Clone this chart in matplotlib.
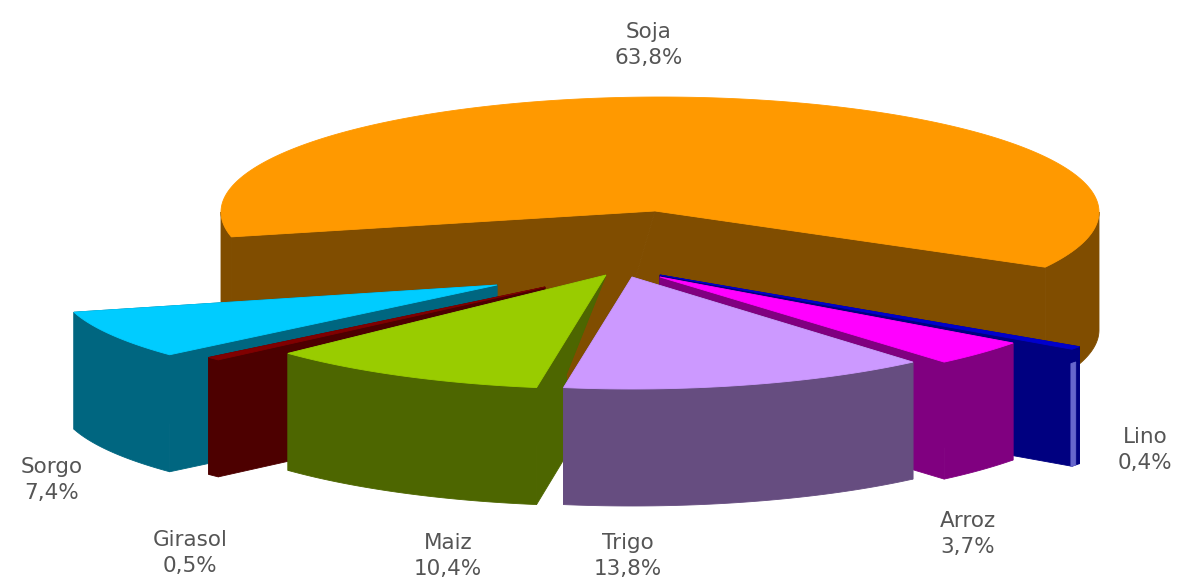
import numpy as np
import matplotlib
matplotlib.use("Agg")
import matplotlib.pyplot as plt
from matplotlib.patches import Polygon

# --- data
categories = ["Soja", "Lino", "Arroz", "Trigo", "Maiz", "Girasol", "Sorgo"]
values = [63.8, 0.4, 3.7, 13.8, 10.4, 0.5, 7.4]
value_labels = ["63,8%", "0,4%", "3,7%", "13,8%", "10,4%", "0,5%", "7,4%"]

# --- styles
top_colors = ["#FF9900", "#0000CC", "#FF00FF", "#CC99FF", "#99CC00", "#800000", "#00CCFF"]
side_colors = ["#804D00", "#000080", "#800080", "#664D80", "#4D6600", "#4D0000", "#006680"]
text_color = "#555555"

# --- layout (pixels in a 1182x587 canvas)
tips = [(655, 211), (660, 275), (660, 277), (632, 277), (606, 275), (545, 287), (497, 285)]
centers = [(660, 212), None, None, None, None, None, None]
radii = [(439, 115), (510, 126), (437, 112), (432, 112), (438, 114), (450, 106), (438, 105)]
heights = [118, 117, 117, 117, 117, 117, 117]
feet = {0: [(600, 400)], 4: [(575, 441), (566, 375)]}
angle_trim = {0: (2.5, -6.0)}
draw_order = [0, 1, 2, 6, 5, 4, 3]
label_xy = [(649, 45), (1145, 450), (968, 534), (628, 556), (448, 556), (190, 553), (52, 480)]
start_angle = 165.0

fig = plt.figure(figsize=(11.82, 5.87), dpi=100)
ax = fig.add_axes([0, 0, 1, 1])
ax.set_xlim(0, 1182)
ax.set_ylim(587, 0)
ax.axis("off")

# slice angles come from the data, clockwise on screen
spans = np.array(values) / sum(values) * 360.0
starts = start_angle + np.concatenate(([0.0], np.cumsum(spans)[:-1]))
ends = starts + spans


def rim(c, r, a0, a1):
    t = np.radians(np.linspace(a0, a1, max(int(abs(a1 - a0)) * 2, 3)))
    return np.column_stack((c[0] + r[0] * np.cos(t), c[1] + r[1] * np.sin(t)))


def patch(pts, color, z):
    ax.add_patch(Polygon(pts, closed=True, fc=color, ec=color, lw=0.6, zorder=z))


for z, i in enumerate(draw_order):
    a0 = starts[i] + angle_trim.get(i, (0, 0))[0]
    a1 = ends[i] + angle_trim.get(i, (0, 0))[1]
    tip = np.array(tips[i], float)
    c = np.array(centers[i] if centers[i] else tips[i], float)
    r = radii[i]
    h = np.array([0, heights[i]])
    arc = rim(c, r, a0, a1)
    foot = np.array(feet.get(i, [tip + h]), float)
    z2 = z * 3
    # cut faces
    patch(np.vstack((tip, arc[0], arc[0] + h, foot)), side_colors[i], z2)
    patch(np.vstack((tip, arc[-1], arc[-1] + h, foot[::-1] if len(foot) == 1 else foot)), side_colors[i], z2)
    # outer wall, front half only
    for k in range(-1, 3):
        lo = max(a0, k * 360.0)
        hi = min(a1, k * 360.0 + 180.0)
        if hi > lo:
            w = rim(c, r, lo, hi)
            patch(np.vstack((w, (w + h)[::-1])), side_colors[i], z2)
    # top face
    patch(np.vstack((tip, arc)), top_colors[i], z2 + 1)

# lighter outer strip of the Lino slice
li = categories.index("Lino")
s = rim(tips[li], radii[li], (starts[li] + ends[li]) / 2, ends[li] + 0.2)
patch(np.vstack((s + [0, 14], (s + [0, heights[li]])[::-1])), "#6666CC", 3 * draw_order.index(li) + 2)

for name, lab, (x, y) in zip(categories, value_labels, label_xy):
    ax.text(x, y, f"{name}\n{lab}", ha="center", va="center", fontsize=15.5,
            color=text_color, family="DejaVu Sans", linespacing=1.35, zorder=100)

fig.savefig("out.png", dpi=100, facecolor="white")
